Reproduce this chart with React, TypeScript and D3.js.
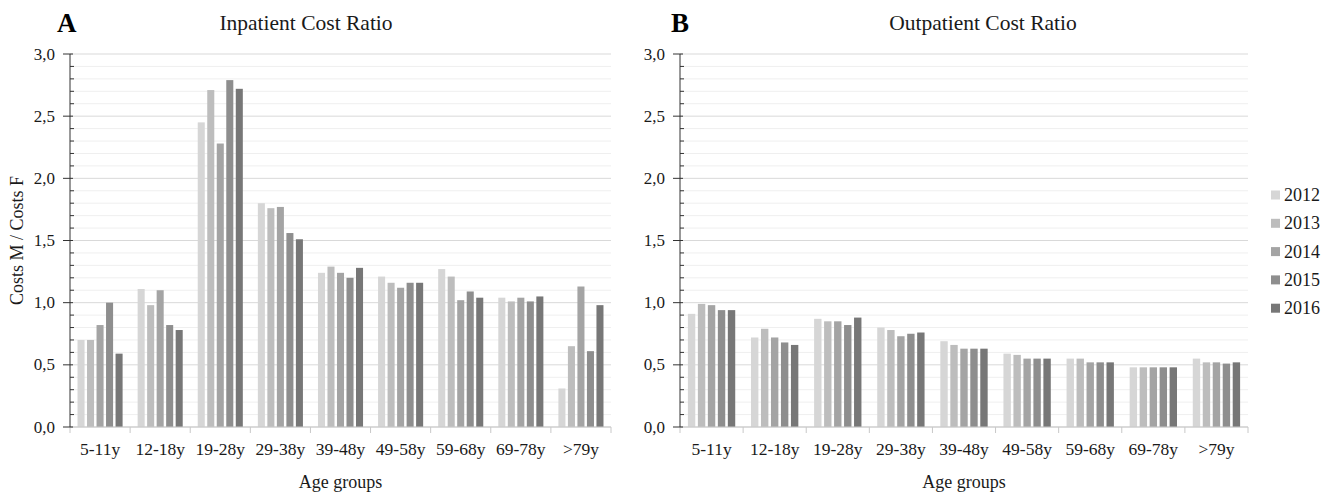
import React from "react";
import * as d3 from "d3";

const ageGroups = ["5-11y", "12-18y", "19-28y", "29-38y", "39-48y", "49-58y", "59-68y", "69-78y", ">79y"];
const years = ["2012", "2013", "2014", "2015", "2016"];
const yearColors = ["#d6d6d6", "#bdbdbd", "#a4a4a4", "#8e8e8e", "#777777"];
const yTicks = [0, 0.5, 1, 1.5, 2, 2.5, 3];

// rows: age group, columns: 2012..2016
const inpatient = [
  [0.70, 0.70, 0.82, 1.0, 0.59],
  [1.11, 0.98, 1.10, 0.82, 0.78],
  [2.45, 2.71, 2.28, 2.79, 2.72],
  [1.80, 1.76, 1.77, 1.56, 1.51],
  [1.24, 1.29, 1.24, 1.20, 1.28],
  [1.21, 1.16, 1.12, 1.16, 1.16],
  [1.27, 1.21, 1.02, 1.09, 1.04],
  [1.04, 1.01, 1.04, 1.01, 1.05],
  [0.31, 0.65, 1.13, 0.61, 0.98],
];
const outpatient = [
  [0.91, 0.99, 0.98, 0.94, 0.94],
  [0.72, 0.79, 0.72, 0.68, 0.66],
  [0.87, 0.85, 0.85, 0.82, 0.88],
  [0.80, 0.78, 0.73, 0.75, 0.76],
  [0.69, 0.66, 0.63, 0.63, 0.63],
  [0.59, 0.58, 0.55, 0.55, 0.55],
  [0.55, 0.55, 0.52, 0.52, 0.52],
  [0.48, 0.48, 0.48, 0.48, 0.48],
  [0.55, 0.52, 0.52, 0.51, 0.52],
];

const font = "Liberation Serif, Times New Roman, serif";
const fmt = (v: number) => v.toFixed(1).replace(".", ",");

type PanelProps = {
  letter: string;
  letterX: number;
  title: string;
  titleX: number;
  x0: number;
  x1: number;
  data: number[][];
  showYLabel: boolean;
};

const Panel = ({ letter, letterX, title, titleX, x0, x1, data, showYLabel }: PanelProps) => {
  const y = d3.scaleLinear().domain([0, 3]).range([427, 54]);
  const xBand = d3.scaleBand<string>().domain(ageGroups).range([x0, x1]).paddingInner(0.25).paddingOuter(0.125);
  const xYear = d3.scaleBand<string>().domain(years).range([0, xBand.bandwidth()]).paddingInner(0.26);
  const minor = d3.range(0, 31).map((i) => i / 10);
  const step = xBand.step();
  const bounds = d3.range(ageGroups.length + 1).map((i) => x0 + i * step);

  return (
    <g fontFamily={font} fill="#1a1a1a">
      <text x={letterX} y={32} fontSize={27} fontWeight="bold" fill="#000">{letter}</text>
      <text x={titleX} y={30} fontSize={21.5} textAnchor="middle">{title}</text>
      {minor.map((v, i) => (
        <line key={"g" + i} x1={x0} x2={x1} y1={y(v)} y2={y(v)}
          stroke={i % 5 === 0 ? "#d9d9d9" : "#efefef"} strokeWidth={1} />
      ))}
      {data.map((row, gi) =>
        row.map((v, yi) => (
          <rect key={gi + "-" + yi}
            x={(xBand(ageGroups[gi]) as number) + (xYear(years[yi]) as number)}
            y={y(v)} width={xYear.bandwidth()} height={y(0) - y(v)}
            fill={yearColors[yi]} />
        ))
      )}
      <line x1={x0} x2={x1} y1={y(0)} y2={y(0)} stroke="#c8c8c8" />
      {bounds.map((b, i) => (
        <line key={"xt" + i} x1={b} x2={b} y1={y(0)} y2={y(0) + 6} stroke="#c8c8c8" />
      ))}
      {ageGroups.map((g) => (
        <text key={g} x={(xBand(g) as number) + xBand.bandwidth() / 2} y={455}
          fontSize={17.5} textAnchor="middle">{g}</text>
      ))}
      <line x1={x0} x2={x0} y1={y(3)} y2={y(0)} stroke="#333" />
      {minor.map((v, i) =>
        i % 5 === 0 ? (
          <line key={"mt" + i} x1={x0 - 7} x2={x0 + 3} y1={y(v)} y2={y(v)} stroke="#333" />
        ) : (
          <line key={"mt" + i} x1={x0} x2={x0 + 4} y1={y(v)} y2={y(v)} stroke="#333" />
        )
      )}
      {yTicks.map((v) => (
        <text key={"yl" + v} x={x0 - 15} y={y(v) + 5.5} fontSize={17} textAnchor="end">{fmt(v)}</text>
      ))}
      <text x={(x0 + x1) / 2} y={488} fontSize={18} textAnchor="middle">Age groups</text>
      {showYLabel && (
        <text transform={`translate(23,${(y(0) + y(3)) / 2}) rotate(-90)`} fontSize={18}
          textAnchor="middle">Costs M / Costs F</text>
      )}
    </g>
  );
};

export default function App() {
  return (
    <svg width={1335} height={492} style={{ position: "absolute", left: 0, top: 0, background: "#fff" }}>
      <rect width={1335} height={492} fill="#fff" />
      <Panel letter="A" letterX={57} title="Inpatient Cost Ratio" titleX={306} x0={70} x1={611}
        data={inpatient} showYLabel={true} />
      <Panel letter="B" letterX={671} title="Outpatient Cost Ratio" titleX={983} x0={680} x1={1248}
        data={outpatient} showYLabel={false} />
      {years.map((yr, i) => (
        <g key={yr} transform={`translate(1271,${195 + i * 28.3})`}>
          <rect x={0} y={-4.5} width={9} height={9} fill={yearColors[i]} />
          <text x={13} y={6} fontSize={18} fontFamily={font} fill="#1a1a1a">{yr}</text>
        </g>
      ))}
    </svg>
  );
}
